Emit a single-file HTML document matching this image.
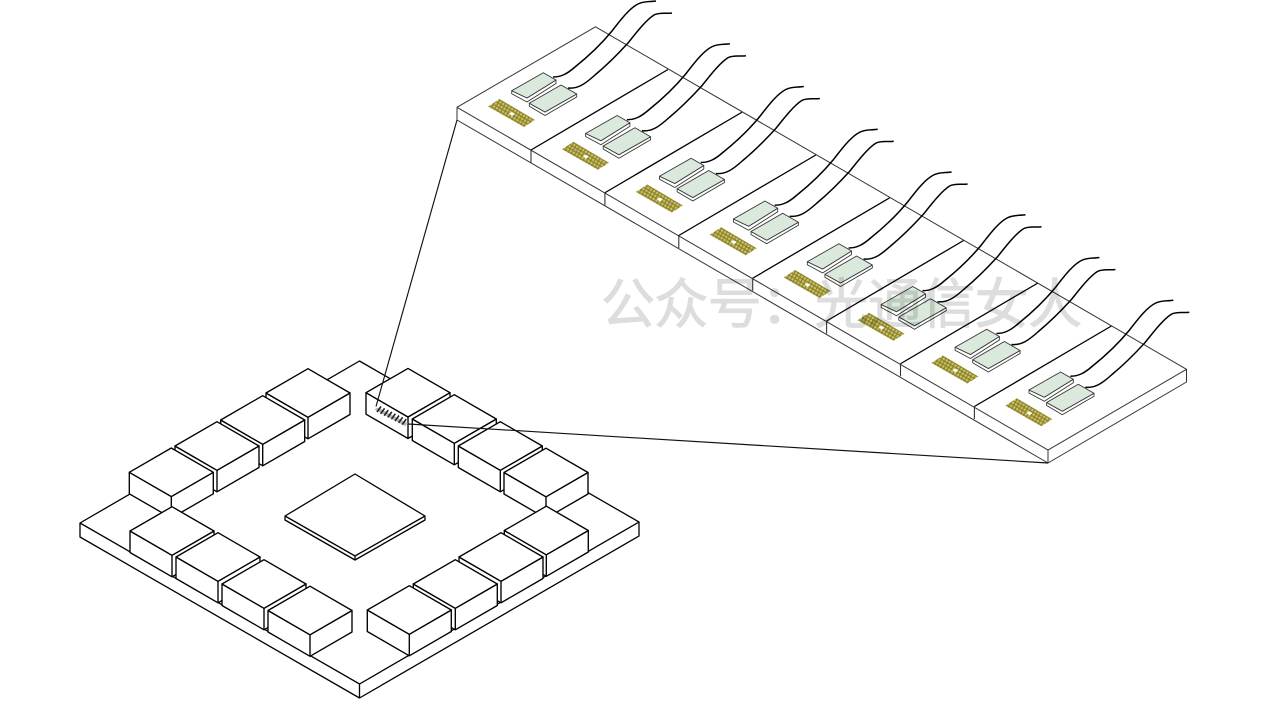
<!DOCTYPE html>
<html lang="zh">
<head>
<meta charset="utf-8">
<title>Diagram</title>
<style>
html,body{margin:0;padding:0;background:#fff;width:1280px;height:720px;overflow:hidden}
svg{display:block}
</style>
</head>
<body>
<svg xmlns="http://www.w3.org/2000/svg" width="1280" height="720" viewBox="0 0 1280 720">
<defs>
<pattern id="dots" width="3.4" height="3.4" patternUnits="userSpaceOnUse" patternTransform="rotate(30)">
<rect width="3.4" height="3.4" fill="#8d8532"/>
<circle cx="1.7" cy="1.7" r="1.2" fill="#cfc564"/>
</pattern>
<g id="box" stroke="#000" stroke-width="1.35" stroke-linejoin="round" fill="#fff">
<path d="M0 0L42 24.3L84 0L84 21.5L42 45.8L0 21.5Z"/>
<path d="M0 0L42 -24.3L84 0L42 24.3Z"/>
<path d="M42 24.3V45.8" fill="none"/>
</g>
<g id="slice">
<path d="M531 150L668 69.5" fill="none" stroke="#000" stroke-width="1.3"/>
<path d="M531 150V162.5" fill="none" stroke="#333" stroke-width="1.1"/>
</g>
<g id="cell">
<path d="M488 106.5L499.5 99L535 120L524 127Z" fill="url(#dots)"/>
<path d="M509 113.5L512 112L515 114L512 116Z" fill="#fff"/>
<path d="M511.7 90.7V93.7L527 102L556 83.5V80L527 98Z" fill="#fff" stroke="#333" stroke-width=".85" stroke-linejoin="round"/>
<path d="M511.7 90.7L543.3 72.7L556 80L527 98Z" fill="#dbe9dc" stroke="#333" stroke-width=".85" stroke-linejoin="round"/>
<path d="M529.3 103.3V106.3L545 115.5L576.7 97V94L545 112Z" fill="#fff" stroke="#333" stroke-width=".85" stroke-linejoin="round"/>
<path d="M529.3 103.3L561 85L576.7 94L545 112Z" fill="#dbe9dc" stroke="#333" stroke-width=".85" stroke-linejoin="round"/>
<path d="M553 77C561 77 567 74 575 67C590 55 603 42 612 31C622 18 630 8 638 4C644 1 650 2 656 1" fill="none" stroke="#000" stroke-width="1.5"/>
<path d="M568 88C578 89 585 84 595 75C607 65 618 54 628 43C636 33 646 20 654 15C660 12 666 14 672 13" fill="none" stroke="#000" stroke-width="1.5"/>
</g>
</defs>

<!-- base plate -->
<path d="M80 523L359.5 361L639 522V536L359.5 698L80 537Z" fill="#fff" stroke="#000" stroke-width="1.3" stroke-linejoin="round"/>
<path d="M80 523L359.5 684L639 522M359.5 684V698" fill="none" stroke="#000" stroke-width="1.3"/>

<!-- centre chip -->
<path d="M285 516L355 474L425 516V520L355 560L285 520Z" fill="#fff" stroke="#000" stroke-width="1.3" stroke-linejoin="round"/>
<path d="M285 516L355 556L425 516M355 556V560" fill="none" stroke="#000" stroke-width="1.3"/>

<!-- top-left row -->
<use href="#box" x="266" y="393"/>
<use href="#box" x="220.7" y="420"/>
<use href="#box" x="175" y="446"/>
<use href="#box" x="129.3" y="472.3"/>
<!-- top-right row -->
<use href="#box" x="366" y="392.7"/>
<use href="#box" x="412.3" y="419"/>
<use href="#box" x="458.3" y="446"/>
<use href="#box" x="504" y="472.5"/>
<!-- bottom-left row -->
<use href="#box" x="130" y="531"/>
<use href="#box" x="176" y="557"/>
<use href="#box" x="222" y="584"/>
<use href="#box" x="268" y="610.5"/>
<!-- bottom-right row -->
<use href="#box" x="504.3" y="530.5"/>
<use href="#box" x="459" y="557"/>
<use href="#box" x="413.3" y="584"/>
<use href="#box" x="367.3" y="610"/>

<!-- coupler on box -->
<path d="M374.5 409.5L378 407.5L408 423.5L405 426Z" fill="#b5b5b5"/>
<g stroke="#222" stroke-width="1.6" fill="none">
<path d="M381 406.5L377 412M384.6 408.3L380.6 413.8M388.2 410.1L384.2 415.6M391.8 411.9L387.8 417.4M395.4 413.7L391.4 419.2M399 415.5L395 421M402.6 417.3L398.6 422.8M406.2 419.1L402.2 424.6"/>
</g>

<!-- strip -->
<path d="M457 107.3L595.5 26.8L1186.5 369.3V382L1048 463L457 120Z" fill="#fff" stroke="#333" stroke-width="1" stroke-linejoin="round"/>
<path d="M457 107.3L1048 450L1186.5 369.3M1048 450V463" fill="none" stroke="#333" stroke-width="1"/>

<use href="#slice"/>
<use href="#slice" x="73.9" y="42.75"/>
<use href="#slice" x="147.8" y="85.5"/>
<use href="#slice" x="221.7" y="128.25"/>
<use href="#slice" x="295.6" y="171"/>
<use href="#slice" x="369.5" y="213.75"/>
<use href="#slice" x="443.4" y="256.5"/>

<use href="#cell"/>
<use href="#cell" x="73.9" y="42.75"/>
<use href="#cell" x="147.8" y="85.5"/>
<use href="#cell" x="221.7" y="128.25"/>
<use href="#cell" x="295.6" y="171"/>
<use href="#cell" x="369.5" y="213.75"/>
<use href="#cell" x="443.4" y="256.5"/>
<use href="#cell" x="517.3" y="299.25"/>

<!-- zoom lines -->
<path d="M457 120L376 406.5" fill="none" stroke="#111" stroke-width="1.15"/>
<path d="M408 424L1048 463" fill="none" stroke="#111" stroke-width="1.15"/>

<!-- watermark -->
<text x="601" y="323" font-family="'Liberation Sans','Noto Sans CJK SC',sans-serif" font-size="54" textLength="481" lengthAdjust="spacing" fill="#000" stroke="#000" stroke-width="1" opacity="0.13">公众号：光通信女人</text>
</svg>
</body>
</html>
